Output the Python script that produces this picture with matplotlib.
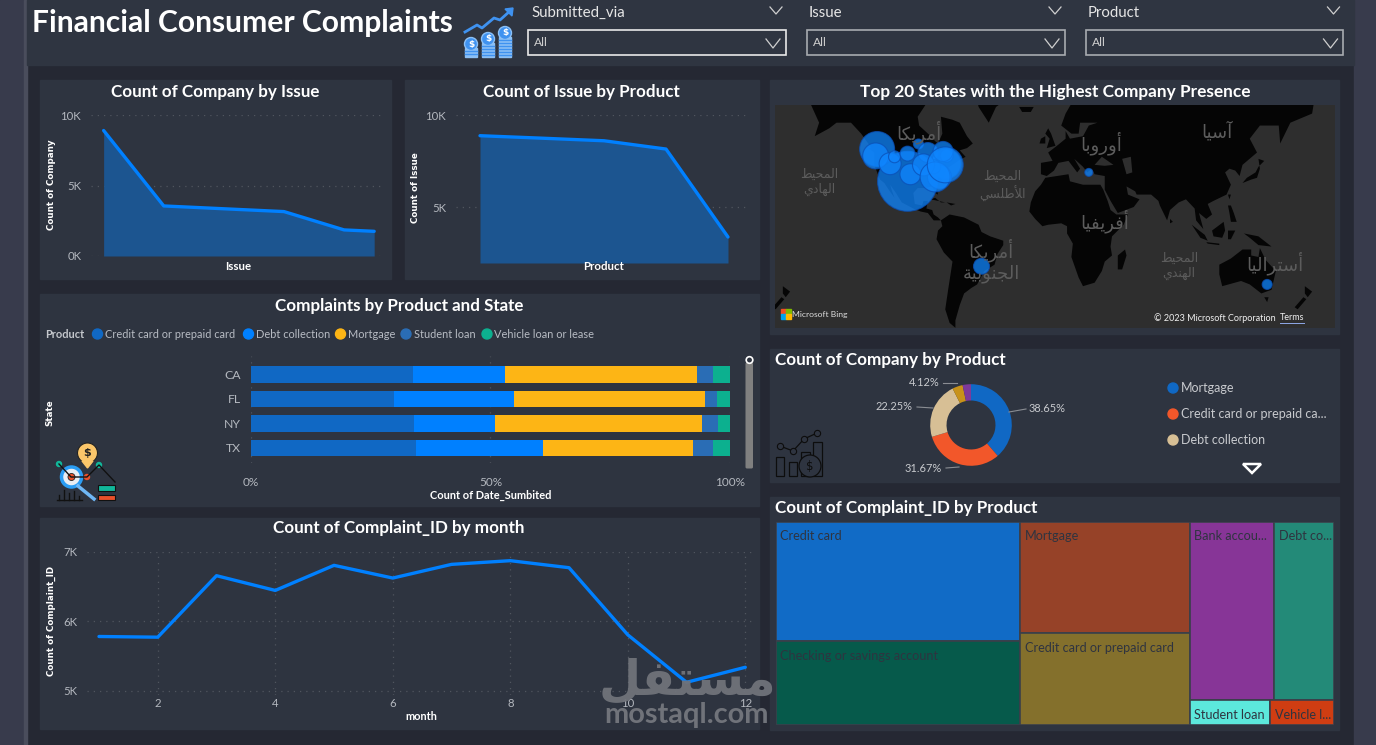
import numpy as np
import matplotlib
matplotlib.use('Agg')
import matplotlib.pyplot as plt
from matplotlib.patches import Rectangle, Circle, FancyBboxPatch, Polygon

W, H = 1376, 745
FONT = ['Lato', 'DejaVu Sans']
AR_FONT = 'DejaVu Sans'

PAGE = '#252833'
PANEL = '#2e3440'
HEADER = '#2f3541'
STRIP = '#383b4c'
BLUE = '#0080ff'
AREA = '#1c5590'
GRID = '#50555f'
TICK = '#b4b8bf'
WHITE = '#ffffff'

# line charts
issue_pos = [0, 1, 2, 3, 4, 4.5]
issue_counts = [8900, 3550, 3350, 3150, 1850, 1750]
product_pos = [0, 1, 2, 3, 4]
product_counts = [8875, 8740, 8600, 8150, 3370]
months = [1, 2, 3, 4, 5, 6, 7, 8, 9, 10, 11, 12]
month_counts = [5784, 5774, 6659, 6447, 6808, 6625, 6822, 6875, 6774, 5808, 5125, 5341]

# stacked bars
states = ['CA', 'FL', 'NY', 'TX']
bar_products = ['Credit card or prepaid card', 'Debt collection', 'Mortgage', 'Student loan', 'Vehicle loan or lease']
bar_colors = ['#1068c4', '#0080ff', '#fdb515', '#2a6db5', '#0cb08f']
credit_share = [33.9, 29.9, 34.0, 34.4]
debt_share = [19.1, 25.0, 16.9, 26.6]
mortgage_share = [40.2, 39.8, 43.3, 31.2]
student_share = [3.2, 2.5, 3.2, 4.2]
vehicle_share = [3.6, 2.8, 2.6, 3.6]

# donut
donut_shares = [38.65, 31.67, 22.25, 4.12, 3.31]
donut_colors = ['#1068c4', '#f2572a', '#d7bf95', '#c8921a', '#7e3a9a']
donut_legend = ['Mortgage', 'Credit card or prepaid ca...', 'Debt collection']

# treemap, in thousands
tree_labels = ['Credit card', 'Checking or savings account', 'Mortgage', 'Credit card or prepaid card',
               'Bank accou...', 'Debt co...', 'Student loan', 'Vehicle l...']
tree_values = [28.7, 20.0, 18.5, 15.2, 14.8, 10.5, 1.9, 1.5]
tree_colors = ['#116bc6', '#065a4b', '#964228', '#84702c', '#873597', '#238a78', '#5ce8dc', '#cf3d12']

# bubbles on the map
bubble_lon = [-101, -122, -123, -113, -110, -101, -99, -93.5, -87, -74.5, -74, -79, -83, -90, -82, -76.5, -75, 24, -50, 147]
bubble_lat = [33, 49.6, 46.4, 42.6, 46, 47.5, 37, 51.8, 48, 42.5, 46.5, 35.5, 41, 42, 35.5, 48.5, 42, 38, -23, -34]
bubble_count = [900, 306, 169, 121, 36, 56, 110, 25, 100, 225, 42, 144, 49, 121, 225, 100, 324, 16, 64, 25]

# coarse coastlines, lon/lat
north_america = [(-168, 66), (-162, 60), (-165, 55), (-155, 58), (-150, 60), (-140, 60), (-133, 56), (-127, 51), (-124, 48),
                 (-124, 42), (-120, 34), (-117, 32), (-114, 28), (-110, 23), (-112, 28), (-113, 31), (-109, 26), (-105, 20),
                 (-97, 16), (-92, 14), (-87, 13), (-83, 8), (-78, 8), (-80, 10), (-83, 12), (-84, 15), (-88, 16), (-87, 21),
                 (-90, 21), (-91, 18), (-96, 19), (-97, 26), (-94, 29), (-89, 29), (-84, 30), (-82, 26), (-80, 25), (-81, 31),
                 (-76, 35), (-74, 40), (-70, 42), (-66, 44), (-61, 46), (-65, 49), (-60, 50), (-56, 52), (-60, 55), (-65, 60),
                 (-70, 61), (-78, 62), (-77, 56), (-80, 52), (-82, 53), (-85, 55), (-93, 59), (-94, 62), (-88, 66), (-80, 70),
                 (-95, 72), (-110, 70), (-130, 70), (-140, 70), (-156, 71)]
south_america = [(-78, 8), (-72, 12), (-62, 10), (-52, 5), (-50, 0), (-44, -3), (-35, -6), (-35, -9), (-39, -15), (-41, -22),
                 (-48, -26), (-53, -34), (-57, -36), (-62, -39), (-65, -45), (-68, -52), (-68, -55), (-72, -53), (-75, -47),
                 (-73, -37), (-70, -20), (-76, -14), (-81, -5), (-80, 1), (-77, 4)]
africa = [(-6, 35), (10, 37), (11, 33), (20, 31), (32, 31), (34, 28), (37, 21), (39, 15), (43, 12), (51, 12), (48, 5), (40, -3),
          (39, -10), (40, -16), (35, -20), (33, -26), (28, -33), (20, -35), (17, -30), (12, -17), (13, -8), (9, -1), (9, 4),
          (5, 6), (-4, 5), (-8, 4), (-13, 9), (-17, 14), (-16, 20), (-13, 27), (-9, 31)]
eurasia = [(-9, 37), (-9, 43), (-1, 44), (-4, 48), (2, 51), (8, 54), (8, 57), (11, 54), (20, 55), (24, 59), (30, 60), (22, 60),
           (18, 60), (17, 56), (12, 56), (5, 59), (8, 63), (15, 68), (25, 71), (40, 67), (60, 69), (80, 73), (105, 77), (140, 73),
           (170, 70), (180, 68), (178, 63), (163, 60), (156, 52), (155, 59), (142, 59), (135, 54), (140, 48), (130, 42), (128, 36),
           (125, 39), (121, 40), (118, 38), (122, 31), (119, 25), (110, 21), (106, 19), (109, 12), (105, 9), (100, 13), (103, 2),
           (98, 8), (97, 16), (91, 22), (86, 20), (80, 15), (78, 8), (73, 18), (72, 21), (67, 25), (57, 25), (56, 27), (50, 30),
           (51, 25), (59, 22), (55, 17), (44, 13), (39, 21), (35, 28), (35, 36), (28, 37), (26, 40), (23, 38), (20, 41), (14, 45),
           (18, 40), (16, 38), (10, 44), (3, 43), (0, 39), (-5, 36)]
australia = [(114, -22), (122, -18), (130, -12), (136, -12), (136, -16), (141, -17), (142, -11), (146, -19), (153, -26),
             (150, -37), (143, -39), (135, -34), (129, -32), (116, -35), (114, -28)]
islands = [
    [(-45, 60), (-52, 65), (-55, 70), (-30, 72), (-22, 70), (-40, 65)],
    [(-24, 65), (-14, 65), (-16, 63.5), (-22, 63.5)],
    [(-5, 50), (1, 51), (-2, 56), (-4, 58), (-6, 56), (-3, 54)],
    [(-10, 52), (-6, 52), (-6, 55), (-9, 54)],
    [(44, -16), (49, -12), (50, -16), (47, -25), (44, -25)],
    [(130, 32), (136, 34), (140, 35), (142, 40), (141, 45), (145, 44), (141, 41), (139, 38), (133, 35)],
    [(95, 5), (104, -2), (106, -6), (101, -4)],
    [(109, 1), (117, 7), (118, 1), (116, -4), (110, -3)],
    [(105, -7), (114, -8), (114, -9), (106, -8)],
    [(120, 1), (125, 1), (122, -5), (120, -5)],
    [(131, -1), (141, -3), (150, -10), (141, -9), (135, -4)],
    [(120, 18), (122, 18), (124, 13), (126, 7), (122, 7), (121, 13)],
    [(80, 9), (82, 7), (80, 6)],
    [(120, 25), (122, 25), (121, 22)],
    [(145, -41), (148, -41), (147, -43.5)],
    [(173, -35), (178, -38), (175, -41), (173, -39)],
    [(172, -41), (174, -42), (168, -47), (166, -46)],
    [(173 - 360, -35), (178 - 360, -38), (175 - 360, -41), (173 - 360, -39)],
    [(172 - 360, -41), (174 - 360, -42), (168 - 360, -47), (166 - 360, -46)],
    [(-85, 22), (-75, 20), (-78, 20), (-82, 23)],
    [(-74, 20), (-68, 19), (-71, 18)],
    [(-125, 50), (-128, 50), (-124, 48)],
]
inland_seas = [
    [(28, 42), (33, 46), (41, 42), (35, 41.5)],
    [(47, 45), (53, 46), (54, 38), (50, 37)],
]

# Arabic place names in presentation forms and visual order, matplotlib does no shaping
place_names = [
    ('\uFE8E\uFEDC\uFEF3\uFEAE\uFEE3\uFE83', 919, 132, 18),
    ('\uFE8E\uFE91\uFEED\uFEAD\uFEED\uFE83', 1101, 143, 18),
    ('\uFE8E\uFEF4\uFEB3\uFE81', 1217, 132, 18),
    ('\uFE8E\uFEF4\uFED4\uFEF3\uFEAE\uFED3\uFE83', 1105, 221, 18),
    ('\uFE8E\uFEDC\uFEF3\uFEAE\uFEE3\uFE83\n\uFE94\uFEF4\uFE91\uFEEE\uFEE8\uFEA0\uFEDF\uFE8D', 991, 261, 18),
    ('\uFE8E\uFEF4\uFEDF\uFE8D\uFEAE\uFE98\uFEB3\uFE83', 1275, 263, 18),
    ('\uFEC2\uFEF4\uFEA4\uFEE4\uFEDF\uFE8D\n\uFEF1\uFEA9\uFE8E\uFEEC\uFEDF\uFE8D', 819, 182, 12.5),
    ('\uFEC2\uFEF4\uFEA4\uFEE4\uFEDF\uFE8D\n\uFEF2\uFEB4\uFEE0\uFEC3\uFEF8\uFE8D', 1002, 186, 12.5),
    ('\uFEC2\uFEF4\uFEA4\uFEE4\uFEDF\uFE8D\n\uFEF1\uFEAA\uFEE8\uFEEC\uFEDF\uFE8D', 1179, 266, 12.5),
]
watermark_ar = '\uFEDE\uFED4\uFE98\uFEB4\uFEE3'

plt.rcParams['font.family'] = FONT

fig = plt.figure(figsize=(W / 100, H / 100), dpi=100, facecolor=PAGE)


def full_layer(z):
    ax = fig.add_axes([0, 0, 1, 1], zorder=z)
    ax.set_xlim(0, W)
    ax.set_ylim(H, 0)
    ax.axis('off')
    ax.patch.set_alpha(0)
    return ax


def px_axes(x0, y0, x1, y1, z=2):
    ax = fig.add_axes([x0 / W, 1 - y1 / H, (x1 - x0) / W, (y1 - y0) / H], zorder=z)
    ax.patch.set_alpha(0)
    for s in ax.spines.values():
        s.set_visible(False)
    return ax


bg = full_layer(0)
fg = full_layer(5)


def label(x, y, s, size, color=WHITE, ha='center', weight='normal', **kw):
    return fg.text(x, y, s, fontsize=size * 0.72, color=color, ha=ha, va='center', fontweight=weight, **kw)


def axis_title(x, y, s, rotation=0):
    # the rotated value-axis names use a wider bold face than the rest
    fg.text(x, y, s, fontsize=6.3, color=WHITE, ha='center', va='center', fontweight='bold',
            rotation=rotation, family='DejaVu Sans')


def style_chart(ax, yticks, ylabels, xticks=(), xlabels=()):
    ax.set_yticks(yticks)
    ax.set_yticklabels(ylabels)
    ax.set_xticks(list(xticks))
    ax.set_xticklabels(list(xlabels))
    ax.tick_params(axis='y', length=0, labelsize=8.2, labelcolor=TICK, pad=7)
    ax.tick_params(axis='x', length=0, labelsize=8.2, labelcolor=TICK, pad=2)
    ax.grid(axis='y', color=GRID, linestyle=(0, (1, 4)), linewidth=0.9)
    ax.set_axisbelow(True)


# page background and panels
bg.add_patch(Rectangle((0, 0), 24, H, color=STRIP))
bg.add_patch(Rectangle((24, 0), 3, H, color='#4a4d5c'))
bg.add_patch(Rectangle((1354, 0), 22, H, color=STRIP))
bg.add_patch(Rectangle((27, 0), 1327, 65, color=HEADER))
for x0, y0, x1, y1 in [(40, 80, 391, 279), (405, 80, 759, 279), (40, 294, 759, 506), (40, 518, 759, 729),
                       (770, 80, 1339, 334), (770, 349, 1339, 482), (770, 497, 1339, 730)]:
    bg.add_patch(Rectangle((x0, y0), x1 - x0, y1 - y0, color=PANEL))

# header
label(32, 23, 'Financial Consumer Complaints', 30, ha='left', weight='bold')
for text_x, box_x, name, edge in [(531, 528, 'Submitted_via', '#e8e8e8'), (809, 807, 'Issue', '#a8abb0'), (1088, 1085.5, 'Product', '#a8abb0')]:
    label(text_x, 13, name, 15, color='#e6e6e6', ha='left')
    bg.add_patch(Rectangle((box_x, 29.5), 257.5, 25.5, fill=False, edgecolor=edge, linewidth=1.2))
    label(box_x + 6, 42, 'All', 12, color='#cfcfcf', ha='left')
    bg.plot([box_x + 238, box_x + 245, box_x + 252], [39, 48, 39], color='#cfcfcf', lw=0.9)
    bg.plot([box_x + 242, box_x + 248, box_x + 254], [7, 14, 7], color='#cfcfcf', lw=0.9)

# coins and rising arrow next to the heading
coin = '#3f92f0'
bg.plot([465, 477, 482, 494, 500, 510], [32, 25, 28, 18, 20, 11], color=coin, lw=2)
bg.add_patch(Polygon([(505, 9), (513, 8), (512, 16)], color=coin))
for cx, cy in [(471, 44), (488, 39), (505, 33)]:
    bg.add_patch(Rectangle((cx - 6, cy + 4), 12, 57 - cy - 4, color='#8cc0f5'))
    for ly in np.arange(cy + 7, 57, 3):
        bg.plot([cx - 6, cx + 6], [ly, ly], color=coin, lw=1)
    bg.add_patch(Circle((cx, cy), 6.5, facecolor=coin, edgecolor='#8cc0f5', lw=1))
    fg.text(cx, cy, '$', color=WHITE, fontsize=6.5, ha='center', va='center', fontweight='bold', family='DejaVu Sans')

# Count of Company by Issue
label(215, 91.5, 'Count of Company by Issue', 17, weight='bold')
ax = px_axes(91, 115, 385, 256)
ax.fill_between(issue_pos, issue_counts, 0, color=AREA, lw=0)
ax.plot(issue_pos, issue_counts, color=BLUE, lw=2.4, solid_capstyle='round')
ax.set_xlim(-0.21, 4.68)
ax.set_ylim(0, 10000)
style_chart(ax, [0, 5000, 10000], ['0K', '5K', '10K'])
axis_title(51, 185, 'Count of Company', 90)
label(238, 267, 'Issue', 11.5, weight='bold')

# Count of Issue by Product
label(581, 91.5, 'Count of Issue by Product', 17, weight='bold')
ax = px_axes(456, 115, 750, 263)
ax.fill_between(product_pos, product_counts, 1957, color=AREA, lw=0)
ax.plot(product_pos, product_counts, color=BLUE, lw=2.4, solid_capstyle='round')
ax.set_xlim(-0.387, 4.355)
ax.set_ylim(1957, 10000)
style_chart(ax, [5000, 10000], ['5K', '10K'])
axis_title(416, 188, 'Count of Issue', 90)
label(604, 267, 'Product', 11.5, weight='bold')

# Complaints by Product and State
label(399, 305.5, 'Complaints by Product and State', 17, weight='bold')
label(45, 334, 'Product', 11, color='#c4c7cc', ha='left', weight='bold')
legend_dot_x = [97.5, 248.5, 340.5, 406, 487]
for dx, name, c in zip(legend_dot_x, bar_products, bar_colors):
    bg.add_patch(Circle((dx, 334), 5, color=c))
    label(dx + 7.5, 334, name, 11, color='#b8bcc4', ha='left')
ax = px_axes(251, 356, 730, 463)
shares = np.array([credit_share, debt_share, mortgage_share, student_share, vehicle_share])
left = np.zeros(len(states))
ypos = np.arange(len(states))
for row, c in zip(shares, bar_colors):
    ax.barh(ypos, row, left=left, height=0.67, color=c, lw=0)
    left += row
ax.set_xlim(0, 100)
ax.set_ylim(3.62, -0.75)
ax.set_yticks(ypos)
ax.set_yticklabels(states)
ax.set_xticks([0, 50, 100])
ax.set_xticklabels(['0%', '50%', '100%'])
ax.tick_params(axis='y', length=0, labelsize=8.8, labelcolor=TICK, pad=7)
ax.tick_params(axis='x', length=0, labelsize=8.5, labelcolor=TICK, pad=10)
ax.grid(axis='x', color=GRID, linestyle=(0, (1, 4)), linewidth=0.9)
ax.set_axisbelow(True)
axis_title(50, 413, 'State', 90)
label(491, 495, 'Count of Date_Sumbited', 11, weight='bold')
bg.add_patch(FancyBboxPatch((747, 364), 4.5, 103, boxstyle='round,pad=1.5', color='#808080', lw=0))
bg.add_patch(Circle((749.5, 360), 3.3, facecolor=PANEL, edgecolor=WHITE, lw=1.2))

# small analysis icon
bg.add_patch(Circle((87.5, 453), 10, facecolor='#fbc66a', edgecolor='#222222', lw=0.8))
bg.add_patch(Polygon([(82, 461), (93, 461), (87.5, 468)], color='#fbc66a'))
fg.text(87.5, 453, '$', color='#222222', fontsize=8, ha='center', va='center', fontweight='bold', family='DejaVu Sans')
bg.plot([59, 71, 87, 99, 115], [464, 477, 477, 465, 482], color='#111111', lw=1)
bg.add_patch(Circle((71.5, 477), 10, facecolor='#e9edf2', edgecolor='#2a9df4', lw=2.5))
bg.add_patch(Circle((71.5, 477), 3.5, facecolor='#e8502a', edgecolor='#222222', lw=0.6))
bg.plot([78, 94], [486, 499], color='#6fb7f5', lw=2.5)
for bx, bh in zip([59, 64, 69, 74, 79], [5, 10, 7, 9, 4]):
    bg.plot([bx, bx], [500, 500 - bh], color='#111111', lw=1)
bg.plot([57, 82], [500, 500], color='#111111', lw=1)
bg.add_patch(Circle((59, 464), 2.5, color='#11b79a'))
bg.add_patch(Circle((99, 465), 2.5, color='#11b79a'))
bg.add_patch(Circle((87, 477), 2.5, color='#e8502a'))
bg.add_patch(Rectangle((98, 485), 17, 6, facecolor='#11b79a', edgecolor='#111111', lw=0.8))
bg.add_patch(Rectangle((98, 495), 17, 5, facecolor='#e8502a', edgecolor='#111111', lw=0.8))

# Count of Complaint_ID by month
label(399, 528.5, 'Count of Complaint_ID by month', 17, weight='bold')
ax = px_axes(87, 552, 754, 695)
ax.plot(months, month_counts, color=BLUE, lw=2.4, solid_capstyle='round')
ax.set_xlim(0.796, 12.148)
ax.set_ylim(4942, 7000)
style_chart(ax, [5000, 6000, 7000], ['5K', '6K', '7K'], [2, 4, 6, 8, 10, 12], ['2', '4', '6', '8', '10', '12'])
ax.grid(axis='x', color=GRID, linestyle=(0, (1, 4)), linewidth=0.9)
axis_title(51, 621, 'Count of Complaint_ID', 90)
label(421, 717, 'month', 11, weight='bold')

# Map, Mercator in lon and projected lat
label(1055, 91.5, 'Top 20 States with the Highest Company Presence', 17.2, weight='bold')


def merc(lat):
    return np.log(np.tan(np.pi / 4 + np.radians(np.asarray(lat, dtype=float)) / 2))


ax = px_axes(775, 105, 1335, 328)
ax.patch.set_alpha(1)
ax.set_facecolor('#2e2e2e')
ax.set_xticks([])
ax.set_yticks([])
for shape in [north_america, south_america, africa, eurasia, australia] + islands:
    lon, lat = zip(*shape)
    ax.fill(lon, merc(lat), color='#050505', lw=0)
for shape in inland_seas:
    lon, lat = zip(*shape)
    ax.fill(lon, merc(lat), color='#2e2e2e', lw=0)
ax.set_xlim((775 - 1054) / 1.45, (1335 - 1054) / 1.45)
ax.set_ylim((232 - 328) / 83, (232 - 105) / 83)
ax.scatter(bubble_lon, merc(bubble_lat), s=np.array(bubble_count) * 2.07, color='#0f86ff', alpha=0.75,
           edgecolor='#0b4fb5', linewidth=0.8, zorder=3)
for name, x, y, size in place_names:
    fg.text(x, y, name, color='#5c5c5c', fontsize=size * 0.72, ha='center', va='center', family=AR_FONT, linespacing=1.2)
for (sx, sy), c in zip([(781, 309), (786, 309), (781, 314), (786, 314)], ['#f25022', '#7fba00', '#00a4ef', '#ffb900']):
    fg.add_patch(Rectangle((sx, sy), 4.6, 4.6, color=c))
label(792, 314, 'Microsoft Bing', 8.5, color='#dddddd', ha='left')
label(1154, 318, '\u00a9 2023 Microsoft Corporation', 9, color='#f0f0f0', ha='left')
label(1280, 318, 'Terms', 9, color='#f0f0f0', ha='left')
fg.plot([1280, 1304], [323, 323], color='#8fa8e8', lw=0.7)

# Donut
label(775, 360.5, 'Count of Company by Product', 17, ha='left', weight='bold')
ax = px_axes(920, 374, 1022, 476)
ax.pie(donut_shares, colors=donut_colors, startangle=90, counterclock=False, radius=0.8,
       wedgeprops=dict(width=0.8 * 0.4, linewidth=0))
ax.set_xlim(-1, 1)
ax.set_ylim(-1, 1)
label_spots = [(1047, 409, (1009, 1026), (412, 409)), (923, 468, (946, 959), (468, 467)),
               (894, 407, (917, 933), (407, 408)), (924, 383, (943, 957), (383, 383))]
for share, (tx, ty, lx, ly) in zip(donut_shares, label_spots):
    label(tx, ty, f'{share:.2f}%', 11, color='#c8cace')
    fg.plot(lx, ly, color='#8a8d93', lw=0.8)
for ly, name, c in zip([388, 414, 440], donut_legend, donut_colors):
    bg.add_patch(Circle((1173, ly), 5, color=c))
    label(1181, ly, name, 12.5, color='#c8cace', ha='left')
fg.add_patch(Polygon([(1243, 464), (1261, 464), (1252, 473)], fill=False, edgecolor=WHITE, lw=1.8))

# chart and coin line icon
ink = '#0d0d0d'
for rx, rtop, rw in [(776, 457, 8), (789, 462, 8), (801, 452, 9), (813, 442, 9)]:
    bg.add_patch(Rectangle((rx, rtop), rw, 476 - rtop, fill=False, edgecolor=ink, lw=0.9))
bg.add_patch(Circle((810, 466), 11, facecolor=PANEL, edgecolor=ink, lw=0.9, zorder=3))
fg.text(810, 466, '$', color=ink, fontsize=8.5, ha='center', va='center', family='DejaVu Sans')
bg.plot([780, 793, 804, 817], [446, 451, 439, 433], color=ink, lw=0.9, marker='o', ms=4.5, mfc=PANEL, mec=ink, mew=0.8)

# Treemap laid out in columns from the values
label(775, 507.5, 'Count of Complaint_ID by Product', 17, ha='left', weight='bold')
ax = px_axes(775.5, 521.5, 1334, 724.5)
ax.axis('off')
total = sum(tree_values)
col1 = sum(tree_values[:2]) / total
col2 = sum(tree_values[2:4]) / total
col3 = sum(tree_values[4:]) / total
top3 = sum(tree_values[4:6]) / sum(tree_values[4:])
rects = [
    (0, 0, col1, tree_values[0] / sum(tree_values[:2])),
    (0, tree_values[0] / sum(tree_values[:2]), col1, tree_values[1] / sum(tree_values[:2])),
    (col1, 0, col2, tree_values[2] / sum(tree_values[2:4])),
    (col1, tree_values[2] / sum(tree_values[2:4]), col2, tree_values[3] / sum(tree_values[2:4])),
    (col1 + col2, 0, col3 * tree_values[4] / sum(tree_values[4:6]), top3),
    (col1 + col2 + col3 * tree_values[4] / sum(tree_values[4:6]), 0, col3 * tree_values[5] / sum(tree_values[4:6]), top3),
    (col1 + col2, top3, col3 * tree_values[6] / sum(tree_values[6:]), 1 - top3),
    (col1 + col2 + col3 * tree_values[6] / sum(tree_values[6:]), top3, col3 * tree_values[7] / sum(tree_values[6:]), 1 - top3),
]
ax.set_xlim(0, 1)
ax.set_ylim(1, 0)
for (rx, ry, rw, rh), c, name in zip(rects, tree_colors, tree_labels):
    ax.add_patch(Rectangle((rx, ry), rw, rh, facecolor=c, edgecolor='#3a3f4a', lw=1.2))
    ax.annotate(name, (rx, ry), xytext=(3.2, -10.5), textcoords='offset points', fontsize=9.1, color='#2f3440',
                ha='left', va='center', annotation_clip=False)

# site watermark
fg.text(687, 680, watermark_ar, fontsize=35, color='#70737a', alpha=0.95, ha='center', va='center',
        family='DejaVu Sans', fontweight='bold')
label(687, 715, 'mostaql.com', 29, color='#70737a', weight='bold')

fig.savefig('out.png', dpi=100, facecolor=PAGE)
